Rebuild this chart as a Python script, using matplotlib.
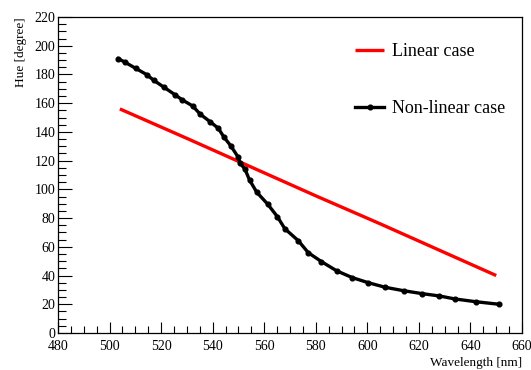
import matplotlib
matplotlib.use("Agg")
import matplotlib.pyplot as plt
from matplotlib.ticker import MultipleLocator

plt.rcParams["font.family"] = ["Liberation Serif", "DejaVu Serif"]

# Linear case (straight red line)
lin_wl = [504.0, 530.0, 555.0, 580.0, 605.0, 630.0, 650.0]
lin_hue = [156.0, 135.5, 115.5, 95.5, 76.0, 56.0, 40.0]

# Non-linear case (black curve with markers)
nl_wl = [503.4, 506.0, 510.1, 514.4, 517.1, 521.1, 525.3, 528.2, 532.2, 535.2,
         539.0, 542.2, 544.4, 547.0, 549.9, 550.6, 552.5, 554.3, 557.1, 561.3,
         565.1, 568.0, 573.2, 577.1, 582.2, 588.1, 594.1, 600.4, 607.0, 614.2,
         621.3, 627.9, 634.0, 642.0, 651.1]
nl_hue = [191.0, 188.5, 184.3, 179.9, 176.0, 171.1, 166.0, 162.3, 158.1, 152.3,
          147.1, 142.5, 136.3, 130.4, 122.4, 118.2, 114.2, 106.5, 98.0, 89.8,
          81.0, 72.6, 64.3, 55.9, 49.7, 43.3, 38.6, 35.0, 31.8, 29.4,
          27.4, 25.8, 23.7, 21.8, 20.0]

fig = plt.figure(figsize=(5.31, 3.70), dpi=100)
ax = fig.add_axes([58 / 531, 37 / 370, 464 / 531, 316 / 370])

ax.plot(lin_wl, lin_hue, color="red", lw=2.4, solid_capstyle="butt", label="Linear case")
ax.plot(nl_wl, nl_hue, color="black", lw=2.4, marker="o", ms=3.4, label="Non-linear case")

ax.set_xlim(480, 660)
ax.set_ylim(0, 220)
ax.xaxis.set_major_locator(MultipleLocator(20))
ax.xaxis.set_minor_locator(MultipleLocator(5))
ax.yaxis.set_major_locator(MultipleLocator(20))
ax.yaxis.set_minor_locator(MultipleLocator(5))
ax.tick_params(which="both", direction="in", top=False, right=False, labelsize=10, width=0.8)
ax.tick_params(axis="x", which="major", length=8, pad=5)
ax.tick_params(axis="x", which="minor", length=5)
ax.tick_params(axis="y", which="major", length=10, pad=2)
ax.tick_params(axis="y", which="minor", length=6)
for sp in ax.spines.values():
    sp.set_linewidth(0.9)

ax.set_xlabel("Wavelength [nm]", fontsize=9.5, loc="right", labelpad=3)
ax.set_ylabel("Hue [degree]", fontsize=9.5, loc="top", labelpad=5)

ax.legend(loc="upper right", bbox_to_anchor=(0.998, 0.968), frameon=False, fontsize=13,
          handlelength=1.6, labelspacing=2.2, handletextpad=0.4)

fig.savefig("out.png", dpi=100)
